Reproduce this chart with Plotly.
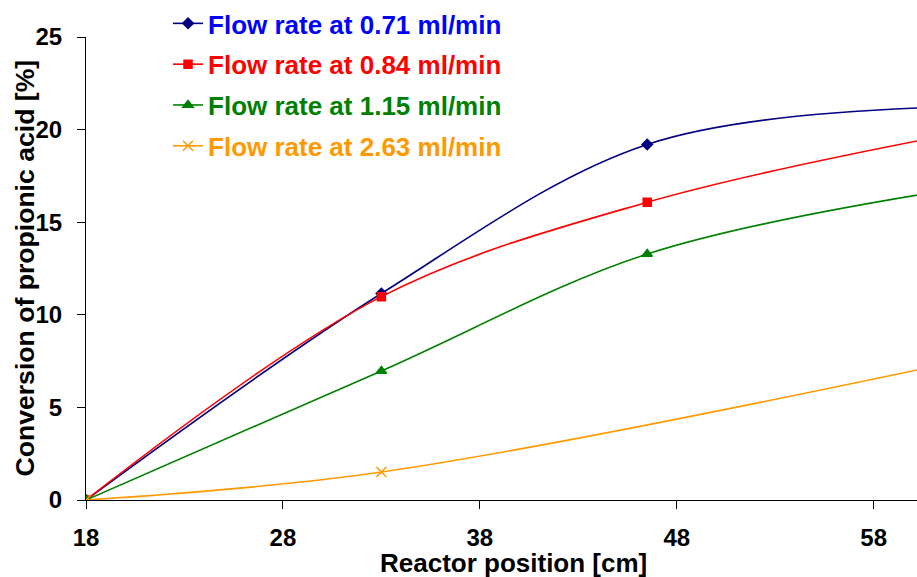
import plotly.graph_objects as go

# Data
positions = [18, 33, 46.5, 61]
orange_positions = [18, 33, 61]
conv_071 = [0.0, 11.15, 19.2, 21.2]
conv_084 = [0.0, 10.98, 16.08, 19.55]
conv_115 = [0.0, 6.97, 13.28, 16.6]
conv_263 = [0.0, 1.51, 7.2]

series_names = ["Flow rate at 0.71 ml/min", "Flow rate at 0.84 ml/min",
                "Flow rate at 1.15 ml/min", "Flow rate at 2.63 ml/min"]
x_ticks = [18, 28, 38, 48, 58]
y_ticks = [0, 5, 10, 15, 20, 25]
x_title = "Reactor position [cm]"
y_title = "Conversion of propionic acid [%]"

line_colors = ["#000080", "#FF0000", "#008000", "#FF9900"]
text_colors = ["#0000FF", "#FF0000", "#008000", "#FF9900"]
symbols = ["diamond", "square", "triangle-up", "x-thin"]
sizes = [8, 8, 9, 10]

xs = [positions, positions, positions, orange_positions]
ys = [conv_071, conv_084, conv_115, conv_263]

fig = go.Figure()
for i in range(4):
    fig.add_trace(go.Scatter(
        x=xs[i], y=ys[i], mode="lines+markers",
        name=f"<span style='color:{text_colors[i]}'>{series_names[i]}</span>",
        legendgroup=f"g{i}",
        line=dict(color=line_colors[i], width=1.6, shape="spline", smoothing=1.0),
        marker=dict(symbol=symbols[i], size=sizes[i], color=line_colors[i],
                    line=dict(color=line_colors[i], width=1.5)),
    ))

font_family = "Liberation Sans, Arial, sans-serif"
fig.update_layout(
    width=917, height=577,
    margin=dict(l=86, r=0, t=37, b=77, autoexpand=False),
    paper_bgcolor="white", plot_bgcolor="white",
    font=dict(family=font_family, color="black"),
    showlegend=True,
    legend=dict(
        x=0.0987, y=1.08, xanchor="left", yanchor="top",
        font=dict(size=26, family=font_family, weight="bold"),
        bgcolor="rgba(0,0,0,0)", tracegroupgap=4, itemwidth=30,
    ),
    xaxis=dict(
        range=[18, 60.2], tickvals=x_ticks, ticktext=[str(v) for v in x_ticks],
        showline=True, linecolor="black", linewidth=1.2,
        ticks="outside", ticklen=8, tickcolor="black", tickwidth=1.2,
        ticklabelstandoff=8,
        tickfont=dict(size=24, weight="bold"),
        showgrid=False, zeroline=False, automargin=False,
    ),
    yaxis=dict(
        range=[0, 25], tickvals=y_ticks,
        showline=True, linecolor="black", linewidth=1.2,
        ticks="outside", ticklen=8, tickcolor="black", tickwidth=1.2,
        ticklabelstandoff=10,
        tickfont=dict(size=24, weight="bold"),
        showgrid=False, zeroline=False, automargin=False,
    ),
    annotations=[
        dict(text=f"<b>{x_title}</b>", xref="paper", yref="paper",
             x=0.514, y=-0.135, xanchor="center", yanchor="middle",
             showarrow=False, font=dict(size=26)),
        dict(text=f"<b>{y_title}</b>", xref="paper", yref="paper",
             x=-0.0746, y=0.5, xanchor="center", yanchor="middle",
             textangle=-90, showarrow=False, font=dict(size=26.6)),
    ],
)

fig.write_html(
    "out.html",
    config={"displayModeBar": False},
    post_script="document.body.style.margin='0';document.body.style.overflow='hidden';",
)
